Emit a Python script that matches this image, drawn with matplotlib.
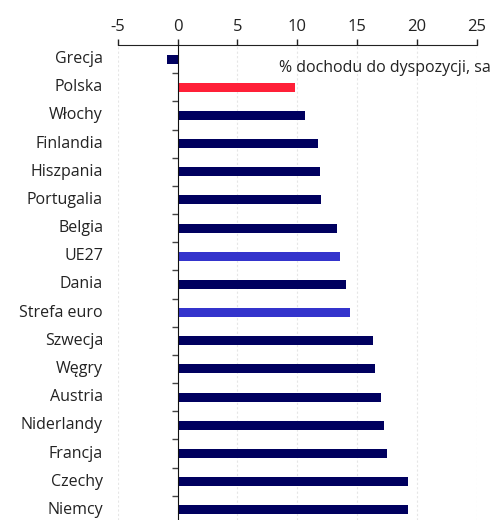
import matplotlib
matplotlib.use("Agg")
import matplotlib.pyplot as plt
from matplotlib.transforms import blended_transform_factory

# data
countries = ["Grecja", "Polska", "Włochy", "Finlandia", "Hiszpania", "Portugalia",
             "Belgia", "UE27", "Dania", "Strefa euro", "Szwecja", "Węgry",
             "Austria", "Niderlandy", "Francja", "Czechy", "Niemcy"]
values = [-0.9, 9.8, 10.6, 11.7, 11.9, 12.0, 13.3, 13.6, 14.1, 14.4,
          16.3, 16.5, 17.0, 17.2, 17.5, 19.2, 19.2]
x_ticks = [-5, 0, 5, 10, 15, 20, 25]
note = "% dochodu do dyspozycji, sa"

navy = "#00005f"
red = "#ff2038"
blue = "#3434cc"
colors = []
for c in countries:
    if c == "Polska":
        colors.append(red)
    elif c in ("UE27", "Strefa euro"):
        colors.append(blue)
    else:
        colors.append(navy)

plt.rcParams['font.family'] = ['Open Sans', 'DejaVu Sans']

fig = plt.figure(figsize=(4.95, 5.2), dpi=100)
W, H = 495, 520
left, right = 117.7 / W, 477 / W
top = 1 - 45 / H
ax = fig.add_axes([left, 0, right - left, top])

ypos = list(range(len(countries)))
ax.barh(ypos, values, height=0.32, color=colors, zorder=3)

ax.set_xlim(-5, 25)
ax.set_ylim(16.36, -0.5)

# x axis on top
ax.xaxis.tick_top()
ax.set_xticks(x_ticks)
ax.set_xticklabels([str(t) for t in x_ticks])
ax.tick_params(axis="x", direction="out", length=4, width=1, color="#222222",
               labelsize=12, labelcolor="#222222", pad=3)
ax.grid(axis="x", color="#e6e6e6", linestyle=(0, (2, 2)), linewidth=0.8, zorder=0)

for s in ["right", "bottom"]:
    ax.spines[s].set_visible(False)
ax.spines["top"].set_color("#222222")
ax.spines["left"].set_position(("data", 0))
ax.spines["left"].set_color("#111111")
ax.spines["left"].set_zorder(4)

# category boundary ticks on the zero line
ax.set_yticks([i + 0.5 for i in ypos[:-1]])
ax.set_yticklabels([])
ax.tick_params(axis="y", direction="out", length=4, width=1, color="#444444")

trans = blended_transform_factory(fig.transFigure, ax.transData)
for i, c in enumerate(countries):
    ax.text(103 / W, i, c, transform=trans, ha="right", va="center",
            fontsize=11.5, color="#222222")

ax.text(8.5, 0.33, note, ha="left", va="center", fontsize=11.5, color="#222222",
        clip_on=False)

fig.savefig("out.png", dpi=100)
